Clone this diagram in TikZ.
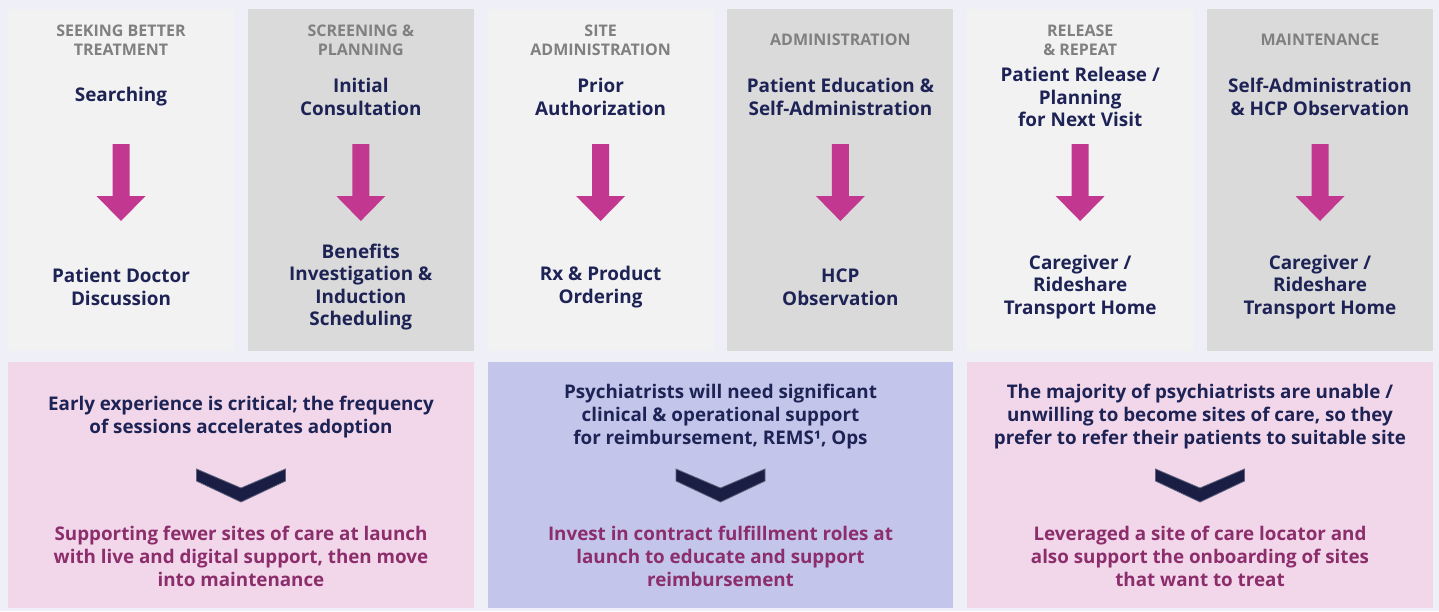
\documentclass[tikz,border=0pt]{standalone}
\usepackage{fontspec}
\setmainfont{Open Sans}
\definecolor{bg}{HTML}{EEEFF7}
\definecolor{colA}{HTML}{F2F2F3}
\definecolor{colB}{HTML}{DADADB}
\definecolor{navy}{HTML}{1E2355}
\definecolor{greyh}{HTML}{808080}
\definecolor{mag}{HTML}{C2378F}
\definecolor{pinkbox}{HTML}{F2D7EA}
\definecolor{bluebox}{HTML}{C3C6EA}
\definecolor{plum}{HTML}{8C2D6C}
\definecolor{chev}{HTML}{1B1E44}
\newcommand{\blockarrow}[1]{%
  \fill[mag] (#1-8.5,144) -- (#1+8.5,144) -- (#1+8.5,196) -- (#1+24.5,196)
    -- (#1,221) -- (#1-24.5,196) -- (#1-8.5,196) -- cycle;}
\newcommand{\chevronmark}[1]{%
  \fill[chev, draw=chev!70!white, line width=0.4pt] (#1-44.5,469) -- (#1,488) -- (#1+44.5,469)
    -- (#1+44.5,481) -- (#1,502) -- (#1-44.5,481) -- cycle;}
\begin{document}
\begin{tikzpicture}[x=0.5pt,y=-0.5pt,
  head/.style={font=\fontsize{8}{9.5}\selectfont\bfseries, text=greyh, align=center, inner sep=0},
  main/.style={font=\fontsize{9.45}{11.3}\selectfont\bfseries, text=navy, align=center, inner sep=0},
  lowtext/.style={font=\fontsize{9.4}{11.5}\selectfont\bfseries, text=plum, align=center, inner sep=0},
  uptext/.style={font=\fontsize{9.4}{11.5}\selectfont\bfseries, text=navy, align=center, inner sep=0}]
\fill[bg] (0,0) rectangle (1439,611);
\useasboundingbox (0,0) rectangle (1439,611);
% columns
\fill[colA] (8,9) rectangle (234,351);
\fill[colB] (247.8,9) rectangle (473.8,351);
\fill[colA] (487.6,9) rectangle (713.6,351);
\fill[colB] (727.4,9) rectangle (953.4,351);
\fill[colA] (967.2,9) rectangle (1193.2,351);
\fill[colB] (1207,9) rectangle (1433,351);
% bottom boxes
\fill[pinkbox] (8,362) rectangle (474,608);
\fill[bluebox] (487.6,362) rectangle (953.4,608);
\fill[pinkbox] (967.2,362) rectangle (1433,608);
% column 1
\node[head] (h1) at (121,40) {SEEKING BETTER\\TREATMENT};
\node[main] (t1) at (121,97) {Searching};
\node[main] (b1) at (121,287) {Patient Doctor\\Discussion};
\blockarrow{121}
% column 2
\node[head] (h2) at (360.8,40) {SCREENING \&\\PLANNING};
\node[main] (t2) at (360.8,97) {Initial\\Consultation};
\node[main] (b2) at (360.8,287) {Benefits\\Investigation \&\\Induction\\Scheduling};
\blockarrow{360.8}
% column 3
\node[head] (h3) at (600.6,40) {SITE\\ADMINISTRATION};
\node[main] (t3) at (600.6,97) {Prior\\Authorization};
\node[main] (b3) at (600.6,287) {Rx \& Product\\Ordering};
\blockarrow{600.6}
% column 4
\node[head] (h4) at (840.4,40) {ADMINISTRATION};
\node[main] (t4) at (840.4,97) {Patient Education \&\\Self-Administration};
\node[main] (b4) at (840.4,287) {HCP\\Observation};
\blockarrow{840.4}
% column 5
\node[head] (h5) at (1080.2,40) {RELEASE\\\& REPEAT};
\node[main] (t5) at (1080.2,97) {Patient Release /\\Planning\\for Next Visit};
\node[main] (b5) at (1080.2,287) {Caregiver /\\Rideshare\\Transport Home};
\blockarrow{1080.2}
% column 6
\node[head] (h6) at (1320,40) {MAINTENANCE};
\node[main] (t6) at (1320,97) {Self-Administration\\\& HCP Observation};
\node[main] (b6) at (1320,287) {Caregiver /\\Rideshare\\Transport Home};
\blockarrow{1320}
% bottom box 1
\node[uptext] (u1) at (241,417) {Early experience is critical; the frequency\\of sessions accelerates adoption};
\chevronmark{241}
\node[lowtext] (l1) at (241,556) {Supporting fewer sites of care at launch\\with live and digital support, then move\\into maintenance};
% bottom box 2
\node[uptext] (u2) at (720.5,417) {Psychiatrists will need significant\\clinical \& operational support\\for reimbursement, REMS¹, Ops};
\chevronmark{720.5}
\node[lowtext] (l2) at (720.5,556) {Invest in contract fulfillment roles at\\launch to educate and support\\reimbursement};
% bottom box 3
\node[uptext] (u3) at (1200,417) {The majority of psychiatrists are unable /\\unwilling to become sites of care, so they\\prefer to refer their patients to suitable site};
\chevronmark{1200}
\node[lowtext] (l3) at (1200,556) {Leveraged a site of care locator and\\also support the onboarding of sites\\that want to treat};
\end{tikzpicture}
\end{document}
